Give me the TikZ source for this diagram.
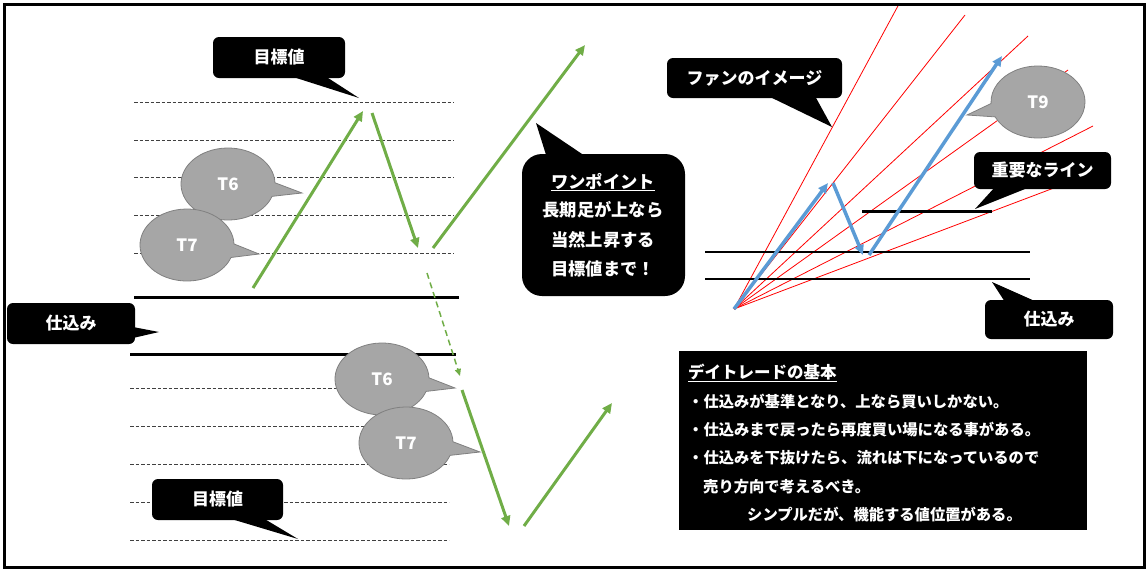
\documentclass[tikz,border=0pt]{standalone}
\usepackage{fontspec}
\setmainfont{Noto Sans CJK JP}
\usetikzlibrary{shapes.callouts,arrows.meta}
\definecolor{grn}{HTML}{70AD47}
\definecolor{blu}{HTML}{5B9BD5}
\definecolor{bubgray}{HTML}{A6A6A6}
\definecolor{bubedge}{HTML}{808080}
\tikzset{
  frameline/.style={line width=3pt},
  dline/.style={draw=black!75, line width=0.8pt, dash pattern=on 3.5pt off 2pt},
  thickline/.style={line width=3pt},
  thinline/.style={line width=1.5pt},
  callbox/.style={fill=black, text=white, rounded corners=6pt, inner sep=0pt,
    font=\bfseries\fontsize{17}{19}\selectfont},
  tail/.style={fill=black},
  bubble/.style={ellipse callout, fill=bubgray, draw=bubedge, line width=0.8pt,
    minimum width=94pt, minimum height=72pt, inner sep=0pt, text=white,
    callout pointer arc=22, font=\bfseries\fontsize{17}{20}\selectfont},
  garrow/.style={draw=grn, line width=3pt, -{Triangle[length=10pt,width=9pt]}},
  gdash/.style={draw=grn, line width=1.5pt, dash pattern=on 6pt off 4pt, -{Triangle[length=7pt,width=6pt]}},
  barrow/.style={draw=blu, line width=3.5pt, -{Triangle[length=10pt,width=9pt]}},
  redline/.style={draw=red, line width=0.8pt},
  boxtext/.style={text=white, inner sep=0pt, anchor=base west, font=\bfseries\fontsize{15.3}{18}\selectfont},
  onetext/.style={text=white, inner sep=0pt, anchor=base, font=\bfseries\fontsize{17.3}{20}\selectfont}
}
\begin{document}
\begin{tikzpicture}[x=1pt,y=-1pt]
\useasboundingbox (0,0) rectangle (1147,571);

% ---------- left chart: guide lines ----------
\foreach \yy in {102,140,177,215,253} \draw[dline] (134,\yy) -- (454,\yy);
\foreach \yy in {388,426,464,502,540} \draw[dline] (130,\yy) -- (449,\yy);
\draw[thickline] (134,297) -- (459,297);
\draw[thickline] (130,354) -- (456,354);

% ---------- bubbles ----------
\node[bubble, callout absolute pointer={(302,193)}] (t6a) at (228,184) {T6};
\node[bubble, callout absolute pointer={(259,254)}] (t7a) at (187,245) {T7};
\node[bubble, callout absolute pointer={(455,388)}] (t6b) at (382,379) {T6};
\node[bubble, callout absolute pointer={(480,452)}] (t7b) at (406,443) {T7};

% ---------- green path ----------
\coordinate (g0) at (253,288);
\coordinate (g1) at (363,111);
\coordinate (g2) at (372,113);
\coordinate (g3) at (418,248);
\coordinate (g4) at (433,248);
\coordinate (g5) at (585,45);
\coordinate (g6) at (427,273);
\coordinate (g7) at (460,376);
\coordinate (g8) at (462,390);
\coordinate (g9) at (509,526);
\coordinate (g10) at (524,526);
\coordinate (g11) at (612,403);
\draw[garrow] (g0) -- (g1);
\draw[garrow] (g2) -- (g3);
\draw[garrow] (g4) -- (g5);
\draw[gdash] (g6) -- (g7);
\draw[garrow] (g8) -- (g9);
\draw[garrow] (g10) -- (g11);

% ---------- left callouts ----------
\coordinate (tip1) at (359,98);
\fill[tail] (290,76) -- (tip1) -- (325,76) -- cycle;
\node[callbox, minimum width=132pt, minimum height=41pt] (tgt1) at (279,57.5) {目標値};

\coordinate (tip2) at (159,332);
\fill[tail] (133,327) -- (tip2) -- (133,338) -- cycle;
\node[callbox, minimum width=128pt, minimum height=41pt] (sk1) at (71,323.5) {仕込み};

\coordinate (tip3) at (298,539);
\fill[tail] (228,518) -- (tip3) -- (263,518) -- cycle;
\node[callbox, minimum width=131pt, minimum height=41pt] (tgt2) at (217.5,499.5) {目標値};

% ---------- one point callout ----------
\coordinate (tip4) at (536,123);
\fill[tail] (547,158) -- (tip4) -- (588,158) -- cycle;
\node[fill=black, rounded corners=20pt, minimum width=163pt, minimum height=142pt, inner sep=0pt] (one) at (603.5,225) {};
\node[onetext] (o1) at (603,188) {\underline{ワンポイント}};
\node[onetext] (o2) at (603,216.5) {長期足が上なら};
\node[onetext] (o3) at (603,246) {当然上昇する};
\node[onetext] (o4) at (603,275) {目標値まで！};

% ---------- fan ----------
\coordinate (fo) at (734,309);
\draw[redline] (fo) -- (899,4);
\draw[redline] (fo) -- (965,15);
\draw[redline] (fo) -- (1028,36);
\draw[redline] (fo) -- (1068,70);
\draw[redline] (fo) -- (1093,126);
\draw[redline] (fo) -- (1075,180);
\draw[thinline] (705,252) -- (1030,252);
\draw[thinline] (705,279) -- (1030,279);
\draw[thickline] (862,211) -- (992,211);

\coordinate (b1) at (828,183);
\coordinate (b2) at (833,183);
\coordinate (b3) at (863,255);
\coordinate (b4) at (869,255);
\coordinate (b5) at (1002,56);
\draw[barrow] (fo) -- (b1);
\draw[barrow] (b2) -- (b3);
\draw[barrow] (b4) -- (b5);

\node[bubble, callout absolute pointer={(967,115)}] (t9) at (1038,102) {T9};

\coordinate (tip5) at (832,127);
\fill[tail] (768,96) -- (tip5) -- (815,96) -- cycle;
\node[callbox, minimum width=175pt, minimum height=40pt] (fan) at (754.5,78) {ファンのイメージ};

\coordinate (tip6) at (975,209);
\fill[tail] (995,187) -- (tip6) -- (1030,187) -- cycle;
\node[callbox, minimum width=137pt, minimum height=37pt] (imp) at (1042.5,170.5) {重要なライン};

\coordinate (tip7) at (992,282);
\fill[tail] (1005,302) -- (tip7) -- (1037,302) -- cycle;
\node[callbox, minimum width=128pt, minimum height=39pt] (sk2) at (1049,319.5) {仕込み};

% ---------- basics box ----------
\node[fill=black, minimum width=408pt, minimum height=179pt, inner sep=0pt, anchor=north west] (basic) at (679,351) {};
\node[boxtext, font=\bfseries\fontsize{16.5}{18}\selectfont] (l1) at (688,378) {\underline{デイトレードの基本}};
\node[boxtext] (l2) at (688,407.5) {・仕込みが基準となり、上なら買いしかない。};
\node[boxtext] (l3) at (688,435.5) {・仕込みまで戻ったら再度買い場になる事がある。};
\node[boxtext] (l4) at (688,463.5) {・仕込みを下抜けたら、流れは下になっているので};
\node[boxtext] (l5) at (703,492) {売り方向で考えるべき。};
\node[boxtext] (l6) at (747,520) {シンプルだが、機能する値位置がある。};

% ---------- frame ----------
\draw[frameline] (4.5,4.5) rectangle (1144,567.5);
\end{tikzpicture}
\end{document}
